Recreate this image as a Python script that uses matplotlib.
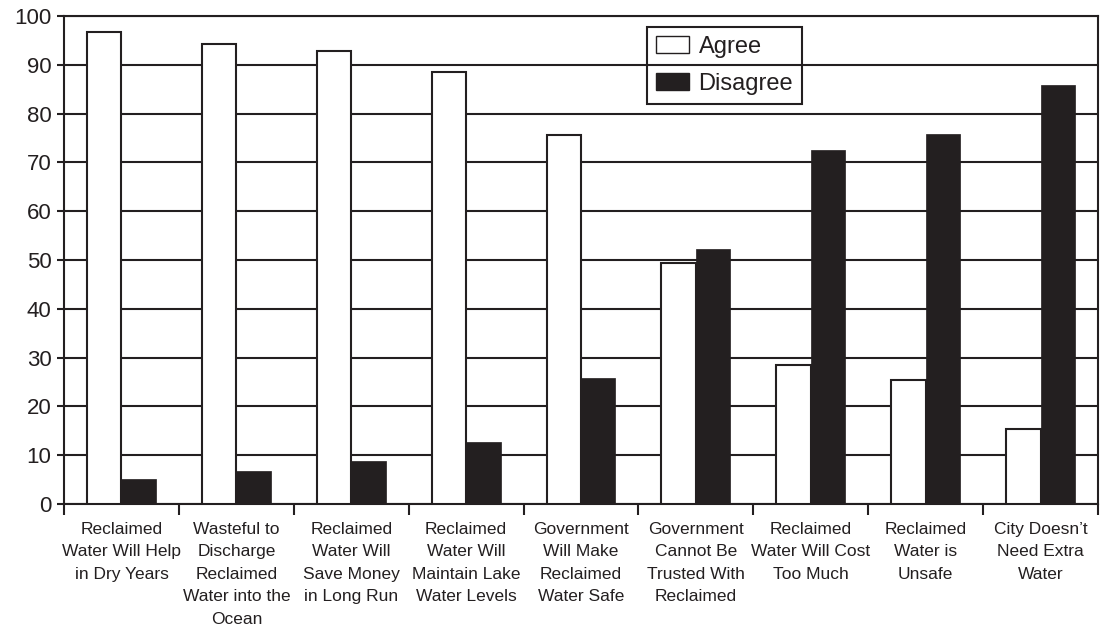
import matplotlib
matplotlib.use("Agg")
import matplotlib.pyplot as plt
from matplotlib import font_manager
from matplotlib.patches import Patch
import numpy as np

categories = [
    "Reclaimed\nWater Will Help\nin Dry Years",
    "Wasteful to\nDischarge\nReclaimed\nWater into the\nOcean",
    "Reclaimed\nWater Will\nSave Money\nin Long Run",
    "Reclaimed\nWater Will\nMaintain Lake\nWater Levels",
    "Government\nWill Make\nReclaimed\nWater Safe",
    "Government\nCannot Be\nTrusted With\nReclaimed",
    "Reclaimed\nWater Will Cost\nToo Much",
    "Reclaimed\nWater is\nUnsafe",
    "City Doesn\u2019t\nNeed Extra\nWater",
]
agree = [96.7, 94.2, 92.8, 88.5, 75.6, 49.4, 28.4, 25.4, 15.4]
disagree = [5.1, 6.7, 8.8, 12.7, 25.8, 52.2, 72.5, 75.8, 85.9]
yticks = [0, 10, 20, 30, 40, 50, 60, 70, 80, 90, 100]

names = {f.name for f in font_manager.fontManager.ttflist}
main_font = "Liberation Sans" if "Liberation Sans" in names else "DejaVu Sans"

plt.rcParams['font.family'] = [main_font, 'DejaVu Sans']
ink = "#231f20"

fig = plt.figure(figsize=(11.01, 6.4), dpi=100)
ax = fig.add_axes([64/1101, 1-504/640, (1098-64)/1101, (504-16)/640])

x = np.arange(len(categories))
w = 0.3
ax.bar(x - w/2, agree, width=w, color="white", edgecolor=ink, linewidth=1.5, zorder=3, label="Agree")
ax.bar(x + w/2, disagree, width=w, color=ink, edgecolor=ink, linewidth=0.5, zorder=3, label="Disagree")

ax.set_xlim(-0.5, len(categories) - 0.5)
ax.set_ylim(0, 100)
ax.set_yticks(yticks)
ax.set_yticklabels([str(v) for v in yticks], fontsize=16, color=ink)
ax.yaxis.grid(True, color=ink, linewidth=1.5, zorder=0)
ax.set_axisbelow(True)

ax.set_xticks(x)
ax.set_xticklabels(categories, fontsize=12.5, color=ink, linespacing=1.62)
ax.tick_params(axis='x', which='major', length=0, pad=13)
ax.set_xticks(np.arange(len(categories) + 1) - 0.5, minor=True)
ax.tick_params(axis='x', which='minor', length=8, width=1.5, color=ink, direction='out')
ax.tick_params(axis='y', length=5, width=1.5, color=ink, pad=4)

for s in ax.spines.values():
    s.set_linewidth(1.5)
    s.set_color(ink)

handles = [Patch(facecolor="white", edgecolor=ink, linewidth=1.0, label="Agree"),
           Patch(facecolor=ink, edgecolor=ink, label="Disagree")]
leg = ax.legend(handles=handles, loc="upper left", bbox_to_anchor=((647-64)/1034, (504-27)/488),
                fontsize=17, frameon=True, fancybox=False,
                edgecolor=ink, handlelength=1.4, handleheight=0.72, handletextpad=0.4,
                borderpad=0.38, labelspacing=0.62, borderaxespad=0)
frame = leg.get_frame()
frame.set_linewidth(1.5)
frame.set_facecolor('none')
frame.set_edgecolor(ink)
frame.set_alpha(None)
for t in leg.get_texts():
    t.set_color(ink)

fig.savefig("out.png", dpi=100, facecolor="white")
